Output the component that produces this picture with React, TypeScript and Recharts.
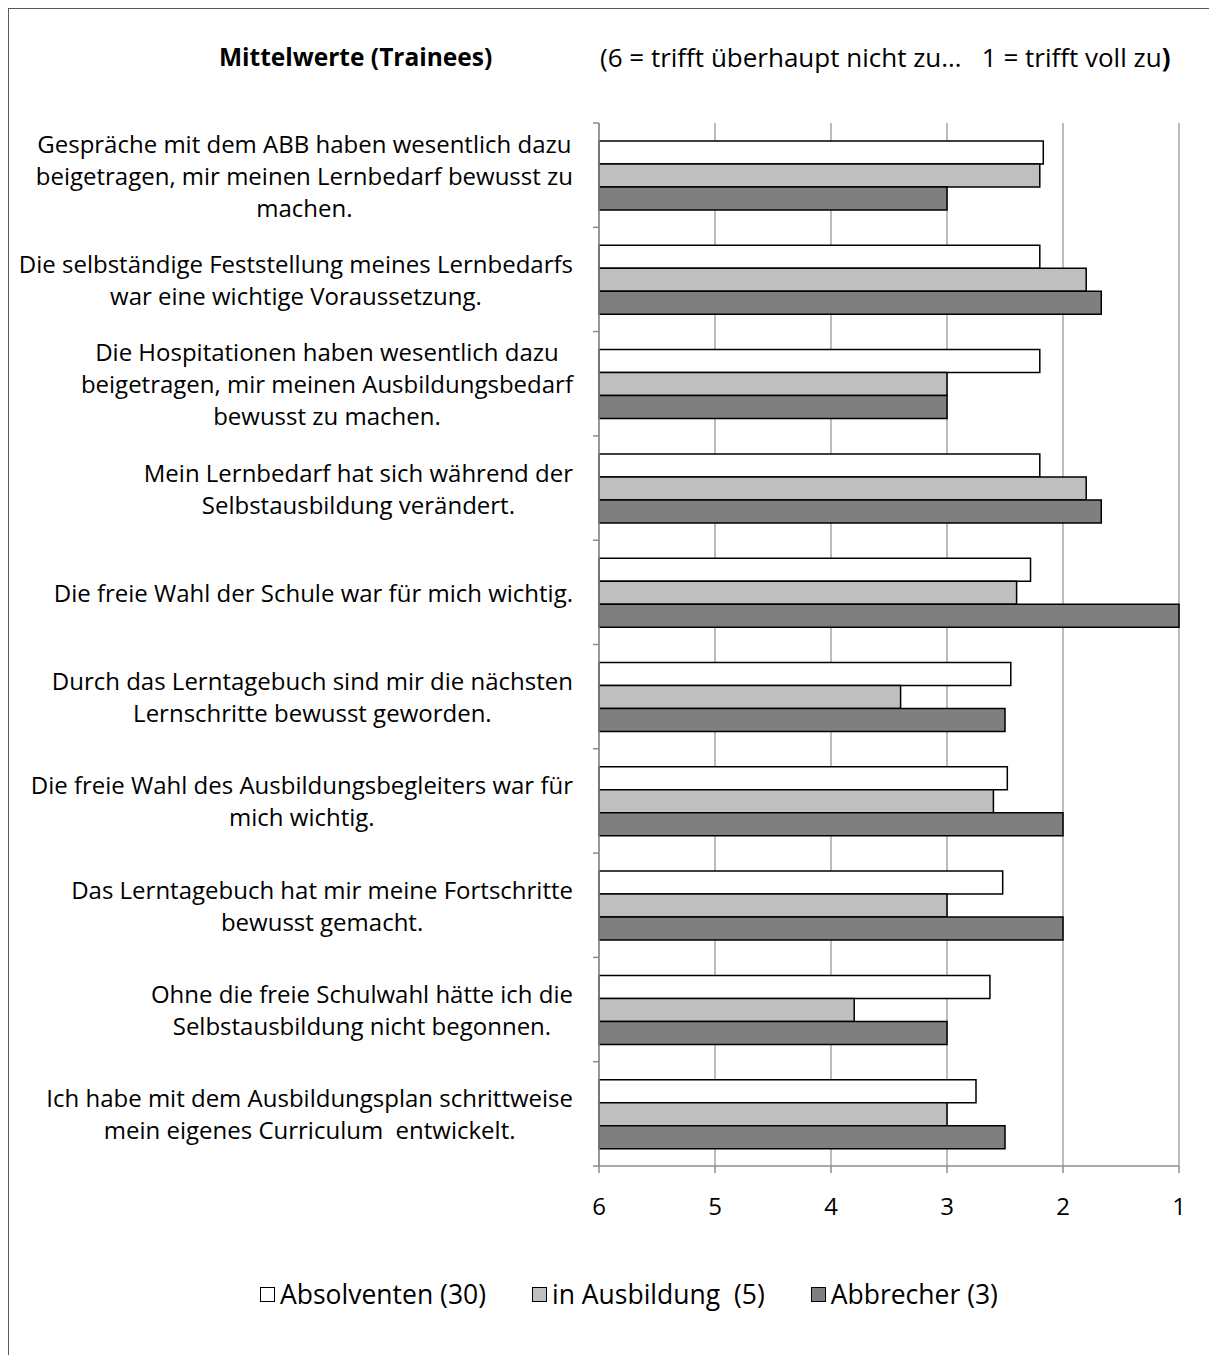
import React from "react";
import { BarChart, Bar, XAxis, YAxis, CartesianGrid } from "recharts";

const statements: string[][] = [
  ["Gespräche mit dem ABB haben wesentlich dazu", "beigetragen, mir meinen Lernbedarf bewusst zu", "machen."],
  ["Die selbständige Feststellung meines Lernbedarfs", "war eine wichtige Voraussetzung."],
  ["Die Hospitationen haben wesentlich dazu", "beigetragen, mir meinen Ausbildungsbedarf", "bewusst zu machen."],
  ["Mein Lernbedarf hat sich während der", "Selbstausbildung verändert."],
  ["Die freie Wahl der Schule war für mich wichtig."],
  ["Durch das Lerntagebuch sind mir die nächsten", "Lernschritte bewusst geworden."],
  ["Die freie Wahl des Ausbildungsbegleiters war für", "mich wichtig."],
  ["Das Lerntagebuch hat mir meine Fortschritte", "bewusst gemacht."],
  ["Ohne die freie Schulwahl hätte ich die", "Selbstausbildung nicht begonnen."],
  ["Ich habe mit dem Ausbildungsplan schrittweise", "mein eigenes Curriculum  entwickelt."],
];

const absolventen = [2.17, 2.2, 2.2, 2.2, 2.28, 2.45, 2.48, 2.52, 2.63, 2.75];
const inAusbildung = [2.2, 1.8, 3.0, 1.8, 2.4, 3.4, 2.6, 3.0, 3.8, 3.0];
const abbrecher = [3.0, 1.67, 3.0, 1.67, 1.0, 2.5, 2.0, 2.0, 3.0, 2.5];

const scaleTicks = [6, 5, 4, 3, 2, 1];
const seriesNames = ["Absolventen (30)", "in Ausbildung  (5)", "Abbrecher (3)"];
const seriesColors = ["#FFFFFF", "#BFBFBF", "#7F7F7F"];

const data = statements.map((lines, i) => ({
  label: lines.join(" "),
  lines,
  abs: absolventen[i],
  aus: inAusbildung[i],
  abb: abbrecher[i],
}));

const W = 1209;
const H = 1355;
const PLOT_TOP = 123;
const PLOT_BOTTOM = 1166;
const PLOT_LEFT = 599;
const PLOT_RIGHT = 1179;
const BAND = (PLOT_BOTTOM - PLOT_TOP) / statements.length;
const FONT = '"Open Sans", sans-serif';
const LABEL_SIZE = 24;
const AXIS_GREY = "#8c8c8c";

let canvasCtx: CanvasRenderingContext2D | null = null;
function measure(text: string) {
  if (!canvasCtx) {
    canvasCtx = document.createElement("canvas").getContext("2d");
  }
  if (!canvasCtx) return text.length * 12;
  canvasCtx.font = `${LABEL_SIZE}px ${FONT}`;
  return canvasCtx.measureText(text).width;
}

function CategoryTick(props: any) {
  const { y, index } = props;
  const row = data[index];
  if (!row) return null;
  const lines = row.lines;
  const widest = Math.max(...lines.map(measure));
  const cx = PLOT_LEFT - 26 - widest / 2;
  const lh = 32;
  const startY = y - ((lines.length - 1) * lh) / 2;
  return (
    <g>
      <line x1={PLOT_LEFT - 6} x2={PLOT_LEFT} y1={y - BAND / 2} y2={y - BAND / 2} stroke={AXIS_GREY} strokeWidth={1.5} />
      {index === data.length - 1 && (
        <line x1={PLOT_LEFT - 6} x2={PLOT_LEFT} y1={y + BAND / 2} y2={y + BAND / 2} stroke={AXIS_GREY} strokeWidth={1.5} />
      )}
      <text textAnchor="middle" fontFamily={FONT} fontSize={LABEL_SIZE} fill="#000" style={{ whiteSpace: "pre" }}>
        {lines.map((l: string, i: number) => (
          <tspan key={i} x={cx} y={startY + i * lh} dominantBaseline="central">
            {l}
          </tspan>
        ))}
      </text>
    </g>
  );
}

function ValueTick(props: any) {
  const { x, payload } = props;
  return (
    <text x={x} y={1205} textAnchor="middle" dominantBaseline="central" fontFamily={FONT} fontSize={LABEL_SIZE} fill="#000">
      {payload.value}
    </text>
  );
}

export default function App() {
  return (
    <div style={{ position: "absolute", left: 0, top: 0, width: W, height: H, background: "#fff", fontFamily: FONT }}>
      <div style={{ position: "absolute", left: 8, top: 8, width: W - 8, height: H - 8, borderLeft: "1.5px solid #595959", borderTop: "1.5px solid #595959" }} />
      <div style={{ position: "absolute", left: 219, top: 40, fontSize: 24.5, lineHeight: "34px", fontWeight: 700, whiteSpace: "nowrap" }}>
        Mittelwerte (Trainees)
      </div>
      <div style={{ position: "absolute", left: 600, top: 40, fontSize: 26, lineHeight: "34px", whiteSpace: "pre" }}>
        {"(6 = trifft überhaupt nicht zu…   1 = trifft voll zu"}
        <b>)</b>
      </div>
      <BarChart
        width={W}
        height={H}
        data={data}
        layout="vertical"
        barSize={23}
        barGap={0}
        margin={{ top: PLOT_TOP, right: W - PLOT_RIGHT, left: 0, bottom: H - PLOT_BOTTOM - 60 }}
      >
        <CartesianGrid horizontal={false} vertical stroke="#a6a6a6" strokeWidth={1.5} />
        <XAxis
          type="number"
          domain={[1, 6]}
          reversed
          ticks={scaleTicks}
          height={60}
          tickSize={7}
          stroke={AXIS_GREY}
          axisLine={{ stroke: AXIS_GREY, strokeWidth: 1.5 }}
          tickLine={{ stroke: AXIS_GREY, strokeWidth: 1.5 }}
          tick={<ValueTick />}
          interval={0}
        />
        <YAxis
          type="category"
          dataKey="label"
          width={PLOT_LEFT}
          tickLine={false}
          axisLine={{ stroke: AXIS_GREY, strokeWidth: 1.5 }}
          tick={<CategoryTick />}
          interval={0}
        />
        <Bar dataKey={(d: any) => [6, d.abs]} name={seriesNames[0]} fill={seriesColors[0]} stroke="#000" strokeWidth={1.5} isAnimationActive={false} />
        <Bar dataKey={(d: any) => [6, d.aus]} name={seriesNames[1]} fill={seriesColors[1]} stroke="#000" strokeWidth={1.5} isAnimationActive={false} />
        <Bar dataKey={(d: any) => [6, d.abb]} name={seriesNames[2]} fill={seriesColors[2]} stroke="#000" strokeWidth={1.5} isAnimationActive={false} />
      </BarChart>
      <div style={{ position: "absolute", left: 260, top: 1276, display: "flex", gap: 46, fontSize: 26.5, lineHeight: "36px" }}>
        {seriesNames.map((n, i) => (
          <div key={n} style={{ display: "flex", alignItems: "center", whiteSpace: "pre" }}>
            <span style={{ display: "inline-block", width: 13, height: 13, background: seriesColors[i], border: "1.5px solid #000", marginRight: 5 }} />
            {n}
          </div>
        ))}
      </div>
    </div>
  );
}
